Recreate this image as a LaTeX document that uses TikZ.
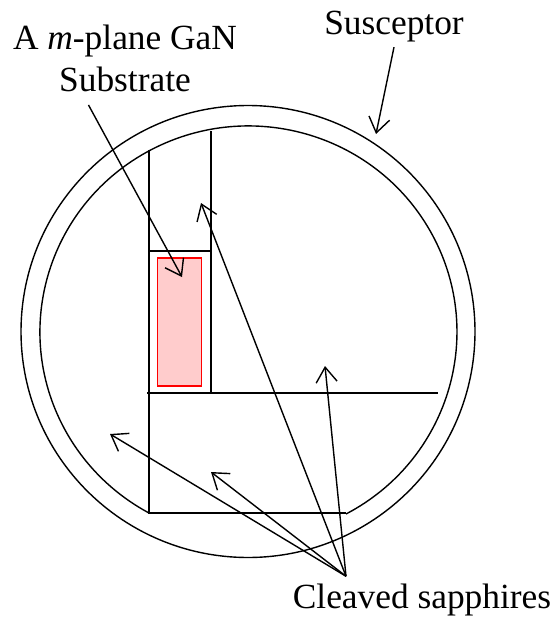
\documentclass[tikz,border=0pt]{standalone}
\usepackage{fontspec}
\setmainfont{Liberation Serif}
\usetikzlibrary{calc}
\usetikzlibrary{arrows.meta}
\definecolor{sample}{HTML}{ffcccc}
\definecolor{sampleedge}{HTML}{ff0000}

\begin{document}
\begin{tikzpicture}[
    x=1bp, y=-1bp,
    >={Straight Barb[length=15bp, width=21bp, line width=1.4bp]},
    susceptor/.style={line width=1.4bp},
    cleave/.style={line width=2bp},
    callout/.style={->, line width=1.4bp},
    samplebox/.style={draw=sampleedge, fill=sample, line width=1.4bp},
    caption/.style={font=\fontsize{35.5}{42}\selectfont, align=center, inner xsep=0pt},
]
\useasboundingbox (0,0) rectangle (555,618);

% ── Susceptor: outer ring, inner ring open at the bottom ──
\draw[susceptor] (248,331.5) ellipse [x radius=227, y radius=226];
\draw[susceptor] (346,514) arc [start angle=62.1, end angle=-241.5, x radius=208.5, y radius=206];

% ── Sample ──
\node[samplebox, minimum width=44bp, minimum height=128bp, inner sep=0pt] (sample) at (179.5,322) {};

% ── Cleaved sapphires round the sample ──
\draw[cleave] (149,150) -- (149,513) -- (346,513);
\draw[cleave] (211,131) -- (211,393);
\draw[cleave] (147,393) -- (438,393);
\draw[cleave] (149,251) -- (211,251);

% ── Labels ──
\node[caption, anchor=south, inner ysep=13bp] (substrate) at (125,105) {A \textit{m}-plane GaN\\Substrate};
\node[caption, anchor=base, inner ysep=4.4bp] (suscept) at (394,35) {Susceptor};
\node[caption, anchor=base, inner ysep=7bp] (cleaved) at (422,608) {Cleaved sapphires};

% Arrow tips
\coordinate (tip-ring) at (376,134);
\coordinate (tip-sample) at (182,277);
\coordinate (tip-top) at (201,203);
\coordinate (tip-right) at (325,366);
\coordinate (tip-left) at (110,434);
\coordinate (tip-bottom) at (211,472);

\draw[callout] (suscept.south) -- (tip-ring);
\draw[callout] ($(substrate.south)+(-36.5,0)$) -- (tip-sample);
\foreach \t in {top,right,left,bottom} {
    \draw[callout] ($(cleaved.north)+(-76,0)$) -- (tip-\t);
}
\end{tikzpicture}
\end{document}
